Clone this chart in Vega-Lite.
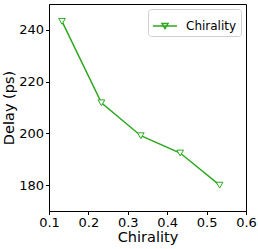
{
  "$schema": "https://vega.github.io/schema/vega-lite/v6.json",
  "width": 197,
  "height": 207,
  "autosize": "none",
  "padding": {"left": 49, "top": 4, "right": 12, "bottom": 38},
  "background": "white",
  "config": {
    "font": "DejaVu Sans",
    "view": {"stroke": "black", "strokeWidth": 1},
    "axis": {
      "grid": false,
      "domainColor": "black",
      "tickColor": "black",
      "tickSize": 3.5,
      "labelColor": "black",
      "titleColor": "black",
      "labelFont": "DejaVu Sans",
      "titleFont": "DejaVu Sans",
      "labelFontSize": 13,
      "titleFontSize": 14.5,
      "titleFontWeight": "normal",
      "labelPadding": 2,
      "labelFlush": false,
      "labelOverlap": false
    }
  },
  "data": {
    "values": [
      {"chirality": 0.133, "delay": 243.3, "series": "Chirality"},
      {"chirality": 0.233, "delay": 211.8, "series": "Chirality"},
      {"chirality": 0.333, "delay": 199.1, "series": "Chirality"},
      {"chirality": 0.433, "delay": 192.4, "series": "Chirality"},
      {"chirality": 0.533, "delay": 180.0, "series": "Chirality"}
    ]
  },
  "encoding": {
    "x": {
      "field": "chirality",
      "type": "quantitative",
      "title": "Chirality",
      "scale": {"domain": [0.1, 0.6], "nice": false, "zero": false},
      "axis": {"values": [0.1, 0.2, 0.3, 0.4, 0.5, 0.6], "format": ".1f", "titlePadding": 1}
    },
    "y": {
      "field": "delay",
      "type": "quantitative",
      "title": "Delay (ps)",
      "scale": {"domain": [170, 250], "nice": false, "zero": false},
      "axis": {"values": [180, 200, 220, 240], "titlePadding": 2}
    }
  },
  "layer": [
    {
      "mark": {"type": "line", "strokeWidth": 1.5},
      "encoding": {
        "color": {
          "field": "series",
          "type": "nominal",
          "scale": {"domain": ["Chirality"], "range": ["#2ca81e"]},
          "legend": {
            "title": null,
            "orient": "top-right",
            "offset": 5,
            "strokeColor": "#d0d0d0",
            "fillColor": "white",
            "cornerRadius": 3,
            "padding": 4,
            "labelFontSize": 12,
            "labelFont": "DejaVu Sans",
            "labelColor": "black",
            "symbolType": "M-1,0L1,0M-0.25,-0.2L0.25,-0.2L0,0.22Z",
            "symbolSize": 576,
            "symbolStrokeWidth": 1.5,
            "symbolFillColor": "white",
            "labelOffset": 8
          }
        }
      }
    },
    {
      "mark": {"type": "point", "shape": "triangle-down", "filled": true, "fill": "white", "stroke": "#2ca81e", "strokeWidth": 1, "size": 45, "opacity": 1}
    }
  ]
}
